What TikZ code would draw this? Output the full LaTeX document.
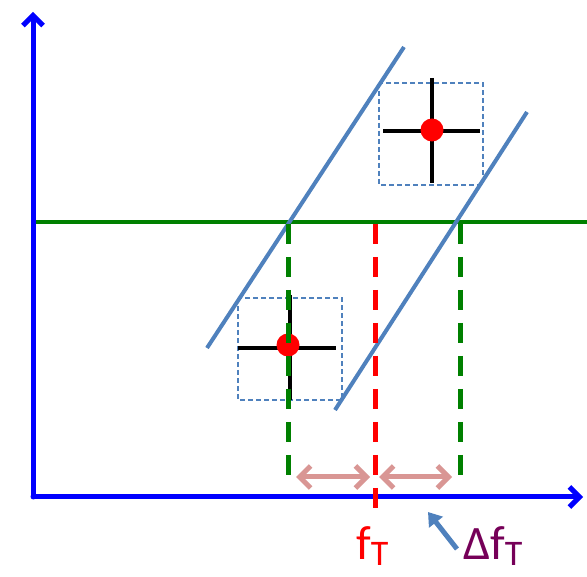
\documentclass[tikz,border=0pt]{standalone}
\usepackage{fontspec}
\setmainfont{Carlito}
\usetikzlibrary{arrows.meta}
\definecolor{axblue}{RGB}{0,0,255}
\definecolor{lblue}{RGB}{79,129,189}
\definecolor{dgreen}{RGB}{0,128,0}
\definecolor{pinkish}{RGB}{217,150,148}
\definecolor{purp}{RGB}{118,0,88}
\newcommand{\subT}{{\fontsize{36}{36}\selectfont\raisebox{-6pt}{T}}}
\tikzset{
  axis/.style={axblue, line width=5pt, -{Straight Barb[length=10pt,width=20pt,line width=5pt]}, line cap=round},
  diag/.style={lblue, line width=4pt},
  gdash/.style={dgreen, line width=5pt, dash pattern=on 20pt off 13pt},
  rdash/.style={red, line width=5pt, dash pattern=on 20pt off 13pt},
  dbox/.style={lblue, line width=1.2pt, dash pattern=on 5pt off 3pt},
  crossln/.style={black, line width=4pt},
  dot/.style={circle, fill=red, minimum size=23pt, inner sep=0pt},
  parr/.style={pinkish, line width=5pt, {Straight Barb[length=11pt,width=22pt,line width=5pt]}-{Straight Barb[length=11pt,width=22pt,line width=5pt]}},
  lbl/.style={font=\fontsize{48}{48}\selectfont, inner sep=0pt}
}
\begin{document}
\begin{tikzpicture}[x=1pt,y=-1pt]
\useasboundingbox (0,0) rectangle (587,577);
% coordinates
\coordinate (o) at (33,497);
\coordinate (ytop) at (33,12);
\coordinate (xend) at (583,497);
\coordinate (gl) at (33,222);
\coordinate (gr) at (587,222);
% green horizontal
\draw[dgreen, line width=4pt] (gl) -- (gr);
% diagonals
\coordinate (d1a) at (207,348);
\coordinate (d1b) at (404,47);
\coordinate (d2a) at (335,410);
\coordinate (d2b) at (527,112);
\draw[diag] (d1a) -- (d1b);
\draw[diag] (d2a) -- (d2b);
% dashed verticals
\coordinate (g1t) at (288,224);
\coordinate (g1b) at (288,482);
\coordinate (g2t) at (460,224);
\coordinate (g2b) at (460,482);
\coordinate (rt) at (375,224);
\coordinate (rb) at (375,518);
\draw[gdash] (g2t) -- (g2b);
% boxes
\draw[dbox] (238,298) rectangle (342,400);
\draw[dbox] (379,83) rectangle (483,185);
% crosses
\draw[crossln] (238,348) -- (336,348);
\draw[crossln] (290,295) -- (290,400);
\draw[crossln] (383,131) -- (480,131);
\draw[crossln] (432,78) -- (432,183);
\node[dot] (p1) at (288,345) {};
\node[dot] (p2) at (432,130) {};
% green dashes over cross
\draw[gdash] (g1t) -- (g1b);
% axes
\draw[axis] (o) -- (ytop);
\draw[axis] (o) -- (xend);
\draw[rdash] (rt) -- (rb);
% pink arrows
\coordinate (a1) at (296,477);
\coordinate (a2) at (370,477);
\coordinate (a3) at (379,477);
\coordinate (a4) at (452,477);
\draw[parr] (a1) -- (a2);
\draw[parr] (a3) -- (a4);
% labels
\node[lbl, red, anchor=base west] (fT) at (356,559) {f\subT};
\node[lbl, purp, anchor=base west] (dfT) at (463,559) {Δf\subT};
\coordinate (bt) at (428,512);
\draw[lblue, line width=5pt, -{Triangle[length=13pt,width=17pt]}] (457,549) -- (bt);
\end{tikzpicture}
\end{document}
